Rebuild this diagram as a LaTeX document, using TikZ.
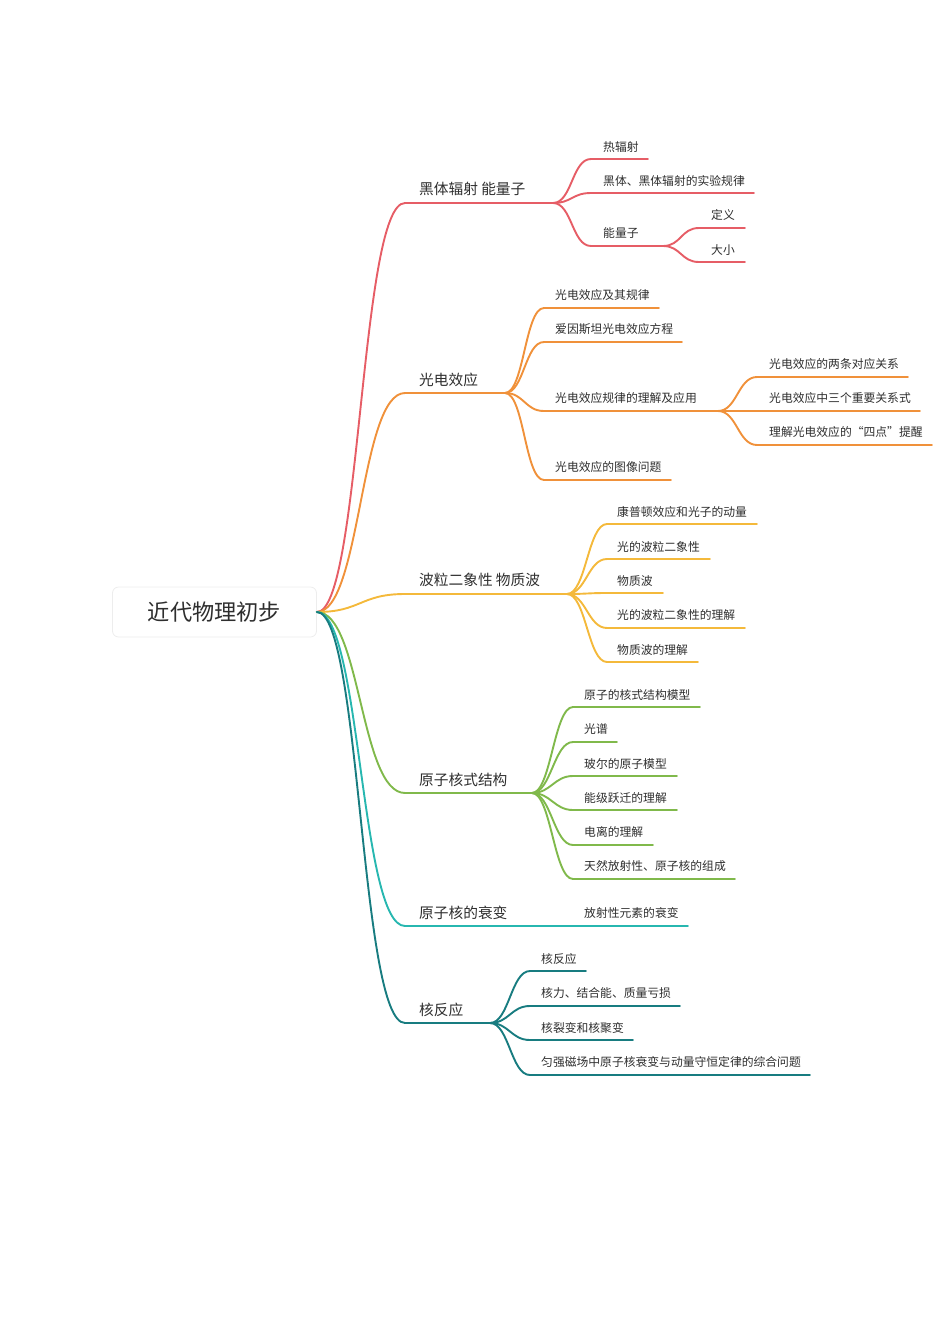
\documentclass[tikz,border=0pt]{standalone}
\usepackage{fontspec}
\setmainfont{Noto Sans CJK SC}
\definecolor{txt}{HTML}{2E2E2E}
\definecolor{cred}{HTML}{E65D66}
\definecolor{corange}{HTML}{F0913A}
\definecolor{cyellow}{HTML}{F4B93B}
\definecolor{cgreen}{HTML}{80B94B}
\definecolor{cteal}{HTML}{27B7B0}
\definecolor{cdteal}{HTML}{187C80}
\tikzset{
  mainlabel/.style={anchor=west, inner sep=0pt, font=\fontsize{14.7}{17}\selectfont, text=txt},
  sublabel/.style={anchor=west, inner sep=0pt, font=\fontsize{11.8}{14}\selectfont, text=txt},
  branch/.style={line width=1.9pt, line cap=round},
  rootbox/.style={draw=black!7, line width=0.8pt, fill=white, rounded corners=6pt,
    minimum width=204pt, minimum height=50pt, inner sep=0pt,
    font=\fontsize{22.2}{25}\selectfont, text=txt}
}
\newcommand\mconn[3]{\draw[branch,#1] (root.east) .. controls +(44,0) and +(-45,0) .. (#2) -- (#3);}
\newcommand\sconn[5]{\draw[branch,#1] (#2) .. controls +(#5,0) and +(-#5,0) .. (#3) -- (#4);}
\begin{document}
\begin{tikzpicture}[x=1pt,y=-1pt]
\useasboundingbox (0,0) rectangle (950,1344);
\node[rootbox] (root) at (214.5,612) {近代物理初步};

% ---------- branch 1 (red)
\node[mainlabel] (b1) at (419,189) {黑体辐射 能量子};
\coordinate (b1s) at (405,203); \coordinate (b1e) at (553,203);
\node[sublabel] (c11) at (603,147) {热辐射};
\coordinate (c11s) at (591,159); \coordinate (c11e) at (648,159);
\node[sublabel] (c12) at (603,181) {黑体、黑体辐射的实验规律};
\coordinate (c12s) at (591,193); \coordinate (c12e) at (754,193);
\node[sublabel] (c13) at (603,233) {能量子};
\coordinate (c13s) at (591,246); \coordinate (c13e) at (663,246);
\node[sublabel] (c131) at (711,215) {定义};
\coordinate (c131s) at (699,228); \coordinate (c131e) at (745,228);
\node[sublabel] (c132) at (711,250) {大小};
\coordinate (c132s) at (699,262); \coordinate (c132e) at (745,262);
\mconn{cred}{b1s}{b1e}
\sconn{cred}{b1e}{c11s}{c11e}{19}
\sconn{cred}{b1e}{c12s}{c12e}{19}
\sconn{cred}{b1e}{c13s}{c13e}{19}
\sconn{cred}{c13e}{c131s}{c131e}{18}
\sconn{cred}{c13e}{c132s}{c132e}{18}

% ---------- branch 2 (orange)
\node[mainlabel] (b2) at (419,380) {光电效应};
\coordinate (b2s) at (405,393); \coordinate (b2e) at (505,393);
\node[sublabel] (c21) at (555,295) {光电效应及其规律};
\coordinate (c21s) at (544,308); \coordinate (c21e) at (659,308);
\node[sublabel] (c22) at (555,329) {爱因斯坦光电效应方程};
\coordinate (c22s) at (544,342); \coordinate (c22e) at (682,342);
\node[sublabel] (c23) at (555,398) {光电效应规律的理解及应用};
\coordinate (c23s) at (544,411); \coordinate (c23e) at (718,411);
\node[sublabel] (c231) at (769,364) {光电效应的两条对应关系};
\coordinate (c231s) at (757,377); \coordinate (c231e) at (908,377);
\node[sublabel] (c232) at (769,398) {光电效应中三个重要关系式};
\coordinate (c232s) at (757,411); \coordinate (c232e) at (920,411);
\node[sublabel] (c233) at (769,432) {理解光电效应的“四点”提醒};
\coordinate (c233s) at (757,445); \coordinate (c233e) at (932,445);
\node[sublabel] (c24) at (555,467) {光电效应的图像问题};
\coordinate (c24s) at (544,480); \coordinate (c24e) at (671,480);
\mconn{corange}{b2s}{b2e}
\sconn{corange}{b2e}{c21s}{c21e}{19}
\sconn{corange}{b2e}{c22s}{c22e}{19}
\sconn{corange}{b2e}{c23s}{c23e}{19}
\sconn{corange}{b2e}{c24s}{c24e}{19}
\sconn{corange}{c23e}{c231s}{c231e}{19}
\sconn{corange}{c23e}{c232s}{c232e}{19}
\sconn{corange}{c23e}{c233s}{c233e}{19}

% ---------- branch 3 (yellow)
\node[mainlabel] (b3) at (419,580) {波粒二象性 物质波};
\coordinate (b3s) at (405,594); \coordinate (b3e) at (567,594);
\node[sublabel] (c31) at (617,512) {康普顿效应和光子的动量};
\coordinate (c31s) at (607,524); \coordinate (c31e) at (757,524);
\node[sublabel] (c32) at (617,547) {光的波粒二象性};
\coordinate (c32s) at (607,559); \coordinate (c32e) at (710,559);
\node[sublabel] (c33) at (617,581) {物质波};
\coordinate (c33s) at (607,593); \coordinate (c33e) at (663,593);
\node[sublabel] (c34) at (617,615) {光的波粒二象性的理解};
\coordinate (c34s) at (607,628); \coordinate (c34e) at (745,628);
\node[sublabel] (c35) at (617,650) {物质波的理解};
\coordinate (c35s) at (607,662); \coordinate (c35e) at (698,662);
\mconn{cyellow}{b3s}{b3e}
\sconn{cyellow}{b3e}{c31s}{c31e}{19}
\sconn{cyellow}{b3e}{c32s}{c32e}{19}
\sconn{cyellow}{b3e}{c33s}{c33e}{19}
\sconn{cyellow}{b3e}{c34s}{c34e}{19}
\sconn{cyellow}{b3e}{c35s}{c35e}{19}

% ---------- branch 4 (green)
\node[mainlabel] (b4) at (419,780) {原子核式结构};
\coordinate (b4s) at (405,793); \coordinate (b4e) at (532,793);
\node[sublabel] (c41) at (584,695) {原子的核式结构模型};
\coordinate (c41s) at (573,707); \coordinate (c41e) at (700,707);
\node[sublabel] (c42) at (584,729) {光谱};
\coordinate (c42s) at (573,742); \coordinate (c42e) at (617,742);
\node[sublabel] (c43) at (584,764) {玻尔的原子模型};
\coordinate (c43s) at (573,776); \coordinate (c43e) at (677,776);
\node[sublabel] (c44) at (584,798) {能级跃迁的理解};
\coordinate (c44s) at (573,810); \coordinate (c44e) at (677,810);
\node[sublabel] (c45) at (584,832) {电离的理解};
\coordinate (c45s) at (573,845); \coordinate (c45e) at (653,845);
\node[sublabel] (c46) at (584,866) {天然放射性、原子核的组成};
\coordinate (c46s) at (573,879); \coordinate (c46e) at (735,879);
\mconn{cgreen}{b4s}{b4e}
\sconn{cgreen}{b4e}{c41s}{c41e}{19}
\sconn{cgreen}{b4e}{c42s}{c42e}{19}
\sconn{cgreen}{b4e}{c43s}{c43e}{19}
\sconn{cgreen}{b4e}{c44s}{c44e}{19}
\sconn{cgreen}{b4e}{c45s}{c45e}{19}
\sconn{cgreen}{b4e}{c46s}{c46e}{19}

% ---------- branch 5 (teal)
\node[mainlabel] (b5) at (419,913) {原子核的衰变};
\coordinate (b5s) at (405,926); \coordinate (b5e) at (574,926);
\node[sublabel] (c51) at (584,913) {放射性元素的衰变};
\coordinate (c51e) at (688,926);
\mconn{cteal}{b5s}{b5e}
\draw[branch,cteal] (b5e) -- (c51e);

% ---------- branch 6 (dark teal)
\node[mainlabel] (b6) at (419,1010) {核反应};
\coordinate (b6s) at (405,1023); \coordinate (b6e) at (490,1023);
\node[sublabel] (c61) at (541,959) {核反应};
\coordinate (c61s) at (530,971); \coordinate (c61e) at (586,971);
\node[sublabel] (c62) at (541,993) {核力、结合能、质量亏损};
\coordinate (c62s) at (530,1006); \coordinate (c62e) at (680,1006);
\node[sublabel] (c63) at (541,1028) {核裂变和核聚变};
\coordinate (c63s) at (530,1040); \coordinate (c63e) at (633,1040);
\node[sublabel] (c64) at (541,1062) {匀强磁场中原子核衰变与动量守恒定律的综合问题};
\coordinate (c64s) at (530,1075); \coordinate (c64e) at (810,1075);
\mconn{cdteal}{b6s}{b6e}
\sconn{cdteal}{b6e}{c61s}{c61e}{19}
\sconn{cdteal}{b6e}{c62s}{c62e}{19}
\sconn{cdteal}{b6e}{c63s}{c63e}{19}
\sconn{cdteal}{b6e}{c64s}{c64e}{19}
\end{tikzpicture}
\end{document}
